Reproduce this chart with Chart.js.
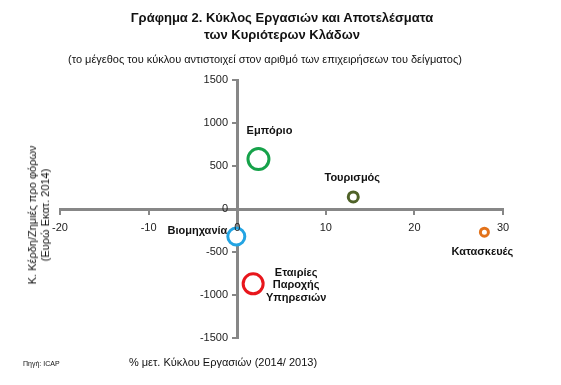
<!DOCTYPE html>
<html>
<head>
<meta charset="utf-8">
<script src="https://cdn.jsdelivr.net/npm/chart.js@4"></script>
<style>
  html, body { margin: 0; padding: 0; background: #fff; }
  #wrap { position: relative; width: 561px; height: 385px; font-family: "Liberation Sans", Arial, sans-serif; color: #111; }
  #wrap canvas { position: absolute; left: 0; top: 0; }
  .txt { position: absolute; white-space: nowrap; }
  .title { left: 0; width: 564px; text-align: center; font-weight: bold; font-size: 13px; line-height: 17px; }
  .sub { left: 0; width: 530px; text-align: center; font-size: 11px; top: 53px; }
  .xtitle { left: 0; width: 446px; text-align: center; font-size: 11px; top: 356px; }
  .ytitle { left: 39px; top: 215px; transform: translate(-50%, -50%) rotate(-90deg); text-align: center; font-size: 11px; line-height: 13px; }
  .src { left: 23px; top: 360px; font-size: 7px; }
</style>
</head>
<body>
<div id="wrap">
  <canvas id="bubbleChart" width="561" height="385"></canvas>
  <div class="txt title" style="top:9px">Γράφημα 2. Κύκλος Εργασιών και Αποτελέσματα<br>των Κυριότερων Κλάδων</div>
  <div class="txt sub">(το μέγεθος του κύκλου αντιστοιχεί στον αριθμό των επιχειρήσεων του δείγματος)</div>
  <div class="txt ytitle">Κ. Κέρδη/Ζημιές προ φόρων<br>(Ευρώ Εκατ. 2014)</div>
  <div class="txt xtitle">% μετ. Κύκλου Εργασιών (2014/ 2013)</div>
  <div class="txt src">Πηγή: ICAP</div>
</div>
<script>
// ---- data ----
const sectors = ["Εμπόριο", "Τουρισμός", "Βιομηχανία", "Εταιρίες Παροχής Υπηρεσιών", "Κατασκευές"];
const turnoverChange = [2.4, 13.1, -0.1, 1.8, 27.9];      // % change 2014/2013
const profitBeforeTax = [580, 140, -320, -870, -270];     // EUR mn 2014
const bubbleSize = [10.5, 5, 8.5, 10, 4];                 // sample size (circle radius)
const xTicks = [-20, -10, 0, 10, 20, 30];
const yTicks = [-1500, -1000, -500, 0, 500, 1000, 1500];

// ---- styles ----
const colors = ["#16a24a", "#4f6228", "#23a4e3", "#e8161c", "#e3721a"];
const labelLines = [["Εμπόριο"], ["Τουρισμός"], ["Βιομηχανία"], ["Εταιρίες", "Παροχής", "Υπηρεσιών"], ["Κατασκευές"]];
const labelPos = [
  { dx: 11, dy: -28, align: "center" },
  { dx: -1, dy: -19, align: "center" },
  { dx: -9, dy: -6, align: "right" },
  { dx: 43, dy: -11, align: "center" },
  { dx: -2, dy: 20, align: "center" }
];

const bubbleLabels = {
  id: "bubbleLabels",
  afterDatasetsDraw(chart) {
    const ctx = chart.ctx;
    ctx.save();
    ctx.font = "bold 11px 'Liberation Sans', Arial, sans-serif";
    ctx.fillStyle = "#111";
    ctx.textBaseline = "middle";
    chart.data.datasets.forEach((ds, i) => {
      const el = chart.getDatasetMeta(i).data[0];
      const p = labelPos[i];
      ctx.textAlign = p.align;
      labelLines[i].forEach((line, k) => {
        ctx.fillText(line, el.x + p.dx, el.y + p.dy + k * 12.5);
      });
    });
    ctx.restore();
  }
};

const datasets = sectors.map((name, i) => ({
  label: name,
  data: [{ x: turnoverChange[i], y: profitBeforeTax[i], r: bubbleSize[i] }],
  borderColor: colors[i],
  backgroundColor: "#fff",
  borderWidth: 3
}));

const axisGray = "#878787";
const tickFont = { family: "'Liberation Sans', Arial, sans-serif", size: 11 };

new Chart(document.getElementById("bubbleChart"), {
  type: "bubble",
  data: { datasets },
  options: {
    responsive: false,
    animation: false,
    layout: { padding: { left: 60, right: 58, top: 80, bottom: 47 } },
    plugins: {
      legend: { display: false },
      tooltip: { enabled: false }
    },
    scales: {
      x: {
        type: "linear",
        position: { y: 0 },
        min: xTicks[0],
        max: xTicks[xTicks.length - 1],
        afterBuildTicks: (s) => { s.ticks = xTicks.map(v => ({ value: v })); },
        grid: { drawOnChartArea: false, color: axisGray, lineWidth: 2, tickLength: 4 },
        border: { color: axisGray, width: 3 },
        // z: 1 -> tick labels on top of the circles (the "0" sits over Βιομηχανία)
        ticks: { font: tickFont, color: "#222", padding: 8, maxRotation: 0, z: 1, callback: (v) => String(v) }
      },
      y: {
        type: "linear",
        position: { x: 0 },
        min: yTicks[0],
        max: yTicks[yTicks.length - 1],
        afterBuildTicks: (s) => { s.ticks = yTicks.map(v => ({ value: v })); },
        grid: { drawOnChartArea: false, color: axisGray, lineWidth: 2, tickLength: 4 },
        border: { color: axisGray, width: 3 },
        // padding is ignored for a crossing axis, so the gap is a few trailing spaces
        ticks: { font: tickFont, color: "#222", callback: (v) => String(v) + "   " }
      }
    }
  },
  plugins: [bubbleLabels]
});
</script>
</body>
</html>
